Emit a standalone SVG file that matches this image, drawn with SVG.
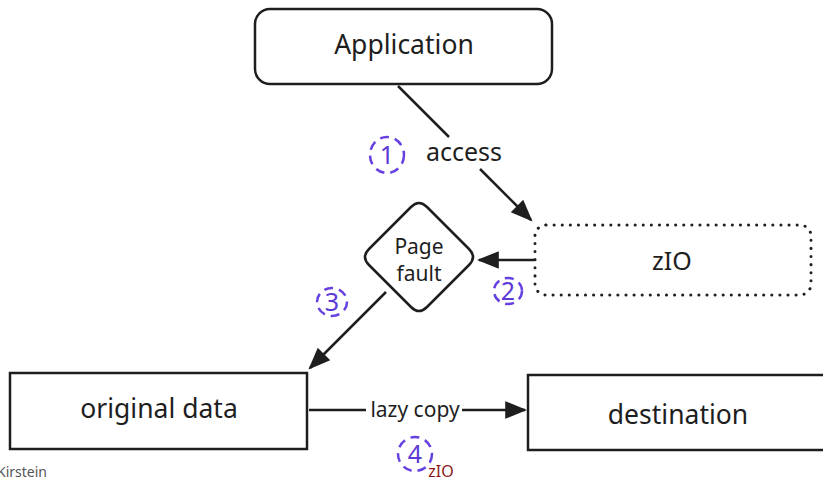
<svg xmlns="http://www.w3.org/2000/svg" width="823" height="479" viewBox="0 0 823 479">
<defs>
<marker id="ahb" viewBox="0 0 10 10" refX="9" refY="5" markerWidth="22" markerHeight="22" orient="auto" markerUnits="userSpaceOnUse">
<path d="M0,1 L10,5 L0,9 z" fill="#1e1e1e"/>
</marker>
</defs>
<style>
.box{fill:#fff;stroke:#1e1e1e;stroke-width:2.5}
.dot{fill:#fff;stroke:#1e1e1e;stroke-width:3;stroke-dasharray:0.1 8;stroke-linecap:round}
.t{font-family:"Noto Sans","Open Sans",sans-serif;fill:#1e1e1e;text-anchor:middle;dominant-baseline:central}
.big{font-size:26.5px}
.mid{font-size:25px}
.sm{font-size:21px}
.line{stroke:#1e1e1e;stroke-width:2.5;fill:none}
.num{fill:none;stroke:#6741e0;stroke-width:2.5;stroke-dasharray:9 6}
.nt{font-family:"Noto Sans","Open Sans",sans-serif;fill:#5b3ad6;font-size:25px;text-anchor:middle;dominant-baseline:central}
</style>
<rect width="823" height="479" fill="#fff"/>
<g id="connectors">
<path class="line" d="M398,86 L449,137"/>
<path class="line" d="M480,169 L531,220" marker-end="url(#ahb)"/>
<path class="line" d="M534,260 L479,260" marker-end="url(#ahb)"/>
<path class="line" d="M386,292 L310,368" marker-end="url(#ahb)"/>
<path class="line" d="M309,410 L366,410"/>
<path class="line" d="M462,410 L525,410" marker-end="url(#ahb)"/>
<text class="t mid" x="464" y="151">access</text>
<text class="t sm" x="415" y="409">lazy copy</text>
</g>
<g id="application">
<rect class="box" x="255" y="9" width="297" height="75" rx="15"/>
<text class="t big" x="404" y="44">Application</text>
</g>
<g id="zio">
<rect class="dot" x="535" y="225" width="276" height="70" rx="11"/>
<text class="t mid" x="672" y="260">zIO</text>
</g>
<g id="pagefault">
<path class="box" d="M411,207 Q419,199 427,207 L469,249 Q477,257 469,265 L427,307 Q419,315 411,307 L369,265 Q361,257 369,249 Z"/>
<text class="t sm" x="419" y="246">Page</text>
<text class="t sm" x="419" y="273">fault</text>
</g>
<g id="original">
<rect class="box" x="10" y="373" width="297" height="76"/>
<text class="t big" x="159" y="408">original data</text>
</g>
<g id="destination">
<rect class="box" x="528" y="375" width="300" height="75"/>
<text class="t big" x="678" y="414">destination</text>
</g>
<g id="marks">
<ellipse class="num" cx="387" cy="155" rx="17" ry="18"/>
<text class="nt" x="387" y="154">1</text>
<ellipse class="num" cx="508" cy="291" rx="14" ry="13"/>
<text class="nt" x="508" y="290">2</text>
<ellipse class="num" cx="332" cy="302" rx="15" ry="14"/>
<text class="nt" x="332" y="301">3</text>
<ellipse class="num" cx="415" cy="454" rx="17" ry="17"/>
<text class="nt" x="415" y="453">4</text>
<text x="441" y="471" font-family="Noto Sans, Open Sans, sans-serif" font-size="16" fill="#8b1a1a" text-anchor="middle" dominant-baseline="central">zIO</text>
<text x="-3" y="471" font-family="Noto Sans, Open Sans, sans-serif" font-size="14" fill="#555" dominant-baseline="central">Kirstein</text>
</g>
</svg>
